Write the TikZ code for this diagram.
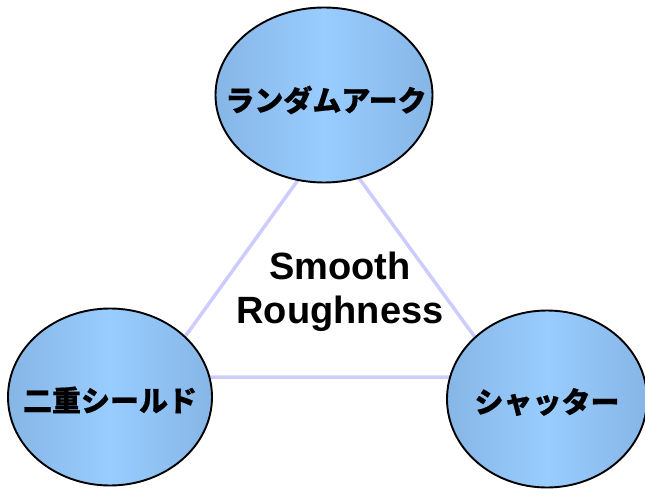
\documentclass[tikz,border=0pt]{standalone}
\usepackage{fontspec}
\setmainfont{Liberation Sans}
\newfontfamily\jpfont{Noto Sans CJK JP}[BoldFeatures={FakeBold=0.6}]
\usetikzlibrary{positioning,shapes.geometric,backgrounds}
\definecolor{EdgeBlue}{HTML}{86B6E6}
\definecolor{MidBlue}{HTML}{99CCFF}
\definecolor{Lavender}{HTML}{CCCCFF}

\begin{document}
\begin{tikzpicture}[
  x=1pt, y=-1pt,
  topic/.style={ellipse, draw=black, line width=1.9pt, inner sep=0pt,
    left color=EdgeBlue, right color=EdgeBlue, middle color=MidBlue},
  label/.style={font=\jpfont\bfseries\fontsize{29}{32}\selectfont},
  link/.style={draw=Lavender, line width=3.5pt},
  core/.style={align=center, font=\bfseries\fontsize{38}{44}\selectfont}
]
\useasboundingbox (0,0) rectangle (645,489);

% triangle corners behind the three topics
\coordinate (apex) at (329,137);
\coordinate (lcorner) at (156,377);
\coordinate (rcorner) at (504,377);
\draw[link] (apex) -- (lcorner) -- (rcorner) -- cycle;

\node[core] (center) at (340,292) {Smooth\\Roughness};

\node[topic, minimum width=217pt, minimum height=175pt] (arc) at (324,95) {};
\node[label] (arclabel) at (326,100) {ランダムアーク};
\node[topic, minimum width=204pt, minimum height=177pt] (shield) at (110,397) {};
\node[label] (shieldlabel) at (110,400) {二重シールド};
\node[topic, minimum width=200pt, minimum height=177pt] (shutter) at (547,399) {};
\node[label] (shutterlabel) at (547,402) {シャッター};
\end{tikzpicture}
\end{document}
